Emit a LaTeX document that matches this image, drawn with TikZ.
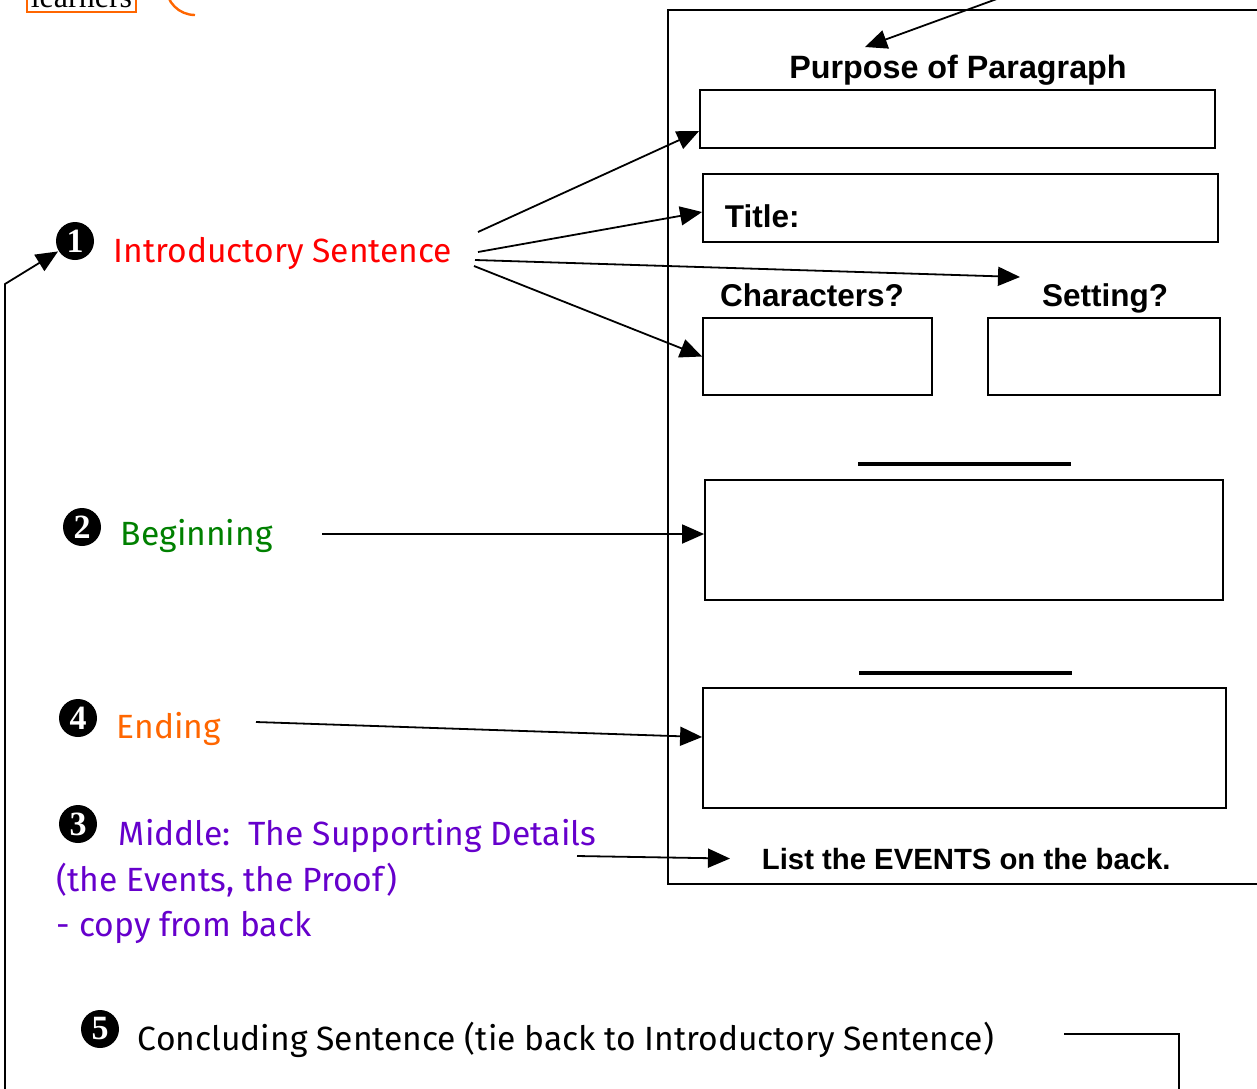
\documentclass[tikz,border=0pt]{standalone}
\usepackage{fontspec}
\setmainfont{Liberation Serif}
\newfontfamily\comicfam{Fira Sans}
\newfontfamily\arialfam{Liberation Sans}
\usetikzlibrary{arrows.meta}
\definecolor{cred}{RGB}{255,0,0}
\definecolor{cgreen}{RGB}{0,128,0}
\definecolor{corange}{RGB}{255,102,0}
\definecolor{cpurple}{RGB}{102,0,204}
\newcommand\comicL{\comicfam\fontsize{33.6}{40}\selectfont}
\newcommand\arialL{\arialfam\bfseries\fontsize{31.5}{37}\selectfont}
\begin{document}
\begin{tikzpicture}[x=1pt,y=-1pt,line width=1.8pt,
  arr/.style={-{Triangle[length=22pt,width=19pt]}},
  box/.style={draw,rectangle,inner sep=0pt,line width=1.8pt},
  bul/.style={circle,fill=black,text=white,minimum size=38pt,inner sep=0pt,
              font=\bfseries\fontsize{34}{34}\selectfont},
  ltxt/.style={anchor=base west,inner sep=0pt,font=\comicL},
  rtxt/.style={inner sep=0pt,font=\arialL}]
\useasboundingbox (0,0) rectangle (1257,1088);

% top fragments
\node[draw=corange,line width=1.8pt,anchor=south east,inner sep=4pt,
      font=\fontsize{32}{32}\selectfont,text depth=1pt] (learn) at (137,13) {learners};
\draw[corange,line width=2.4pt] (166,-14) arc[start angle=180,end angle=90,radius=29];

% page frame
\draw (1275,10) -- (668,10) -- (668,884) -- (1275,884);

% right side boxes and labels
\node[rtxt,anchor=base,font=\arialfam\bfseries\fontsize{32.3}{38}\selectfont] (purpose) at (958,78) {Purpose of Paragraph};
\node[box,minimum width=515pt,minimum height=58pt] (b1) at (957.5,119) {};
\node[box,minimum width=515pt,minimum height=68pt] (bt) at (960.5,208) {};
\node[rtxt,anchor=base west] (title) at (724,227) {Title:};
\node[rtxt,anchor=base] (chars) at (812,306) {Characters?};
\node[rtxt,anchor=base] (sett) at (1105,306) {Setting?};
\node[box,minimum width=229pt,minimum height=77pt] (bc) at (817.5,356.5) {};
\node[box,minimum width=232pt,minimum height=77pt] (bs) at (1104,356.5) {};
\draw[line width=4pt] (858,464) -- (1071,464);
\node[box,minimum width=518pt,minimum height=120pt] (bb) at (964,540) {};
\draw[line width=4pt] (859,673) -- (1072,673);
\node[box,minimum width=523pt,minimum height=120pt] (be) at (964.5,748) {};
\node[rtxt,anchor=base west,font=\arialfam\bfseries\fontsize{29.3}{35}\selectfont] (list) at (761,869) {List the EVENTS on the back.};

% left side
\node[bul] (n1) at (75,241) {1};
\node[ltxt,text=cred] (intro) at (113,262) {Introductory Sentence};
\node[bul] (n2) at (82,527) {2};
\node[ltxt,text=cgreen] (begin) at (120,545) {Beginning};
\node[bul] (n4) at (78,718) {4};
\node[ltxt,text=corange] (ending) at (116,738) {Ending};
\node[bul] (n3) at (78,824) {3};
\node[ltxt,text=cpurple] (middle) at (118,845) {Middle:\ \ The Supporting Details};
\node[ltxt,text=cpurple] (middle2) at (56,891) {(the Events, the Proof)};
\node[ltxt,text=cpurple] (middle3) at (56,936) {- copy from back};
\node[bul] (n5) at (100,1029) {5};
\node[ltxt] (concl) at (137,1050) {Concluding Sentence (tie back to Introductory Sentence)};

% connector end points
\coordinate (i1) at (478,232);
\coordinate (i2) at (478,252);
\coordinate (i3) at (475,260);
\coordinate (i4) at (474,266);
\coordinate (st) at (1020,277);
\coordinate (tops) at (1005,-4);
\coordinate (pt) at (865,47);
\coordinate (bgs) at (322,534);
\coordinate (ens) at (256,722);
\coordinate (mds) at (577,856);
\coordinate (cls) at (1064,1034);

% connectors
\draw[arr] (tops) -- (pt);
\draw[arr] (i1) -- ([yshift=-12pt]b1.west);
\draw[arr] (i2) -- ([yshift=-4pt]bt.west);
\draw[arr] (i3) -- (st);
\draw[arr] (i4) -- (bc.west);
\draw[arr] (bgs) -- ([yshift=6pt]bb.west);
\draw[arr] (ens) -- ([yshift=11pt]be.west);
\draw[arr] (mds) -- ([xshift=-31pt]list.west);
\draw[arr] (cls) -- (1179,1034) -- (1179,1100) -- (5,1100) -- (5,284) -- (n1);
\end{tikzpicture}
\end{document}
